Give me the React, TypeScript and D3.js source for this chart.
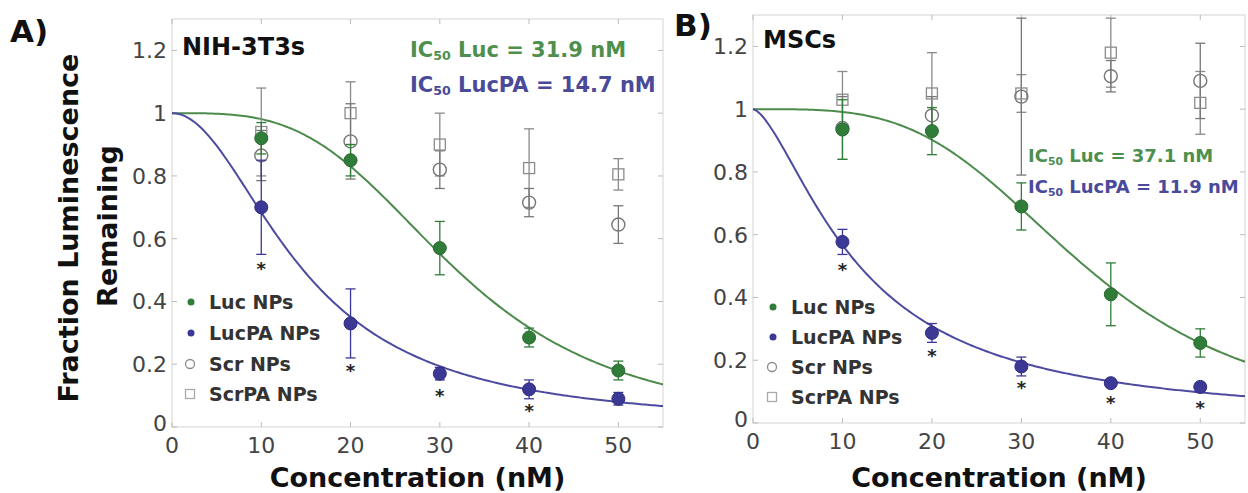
import React from 'react';
import * as d3 from 'd3';

// concentrations (nM)
const conc = [10, 20, 30, 40, 50];
const xTicks = [0, 10, 20, 30, 40, 50];
const yTicks = [0, 0.2, 0.4, 0.6, 0.8, 1, 1.2];
const legendLabels = ['Luc NPs', 'LucPA NPs', 'Scr NPs', 'ScrPA NPs'];

// A) NIH-3T3s
const nihLuc = [0.92, 0.85, 0.57, 0.285, 0.18];
const nihLucErr = [0.05, 0.05, 0.085, 0.03, 0.03];
const nihLucPA = [0.70, 0.33, 0.17, 0.12, 0.09];
const nihLucPAErr = [0.15, 0.11, 0.02, 0.03, 0.02];
const nihScr = [0.865, 0.91, 0.82, 0.715, 0.645];
const nihScrErr = [0.08, 0.12, 0.06, 0.045, 0.06];
const nihScrPA = [0.94, 1.0, 0.9, 0.825, 0.805];
const nihScrPAErr = [0.14, 0.1, 0.1, 0.125, 0.05];
const nihStars = [0.515, 0.19, 0.11, 0.065, null];
const nihIC50 = [31.9, 14.7];
const nihHill = [3.4, 2.0];

// B) MSCs
const mscLuc = [0.935, 0.93, 0.69, 0.41, 0.255];
const mscLucErr = [0.095, 0.075, 0.075, 0.1, 0.045];
const mscLucPA = [0.577, 0.287, 0.18, 0.127, 0.115];
const mscLucPAErr = [0.04, 0.03, 0.03, 0.012, 0.012];
const mscScr = [0.94, 0.98, 1.04, 1.105, 1.09];
const mscScrErr = [0.1, 0.06, 0.25, 0.05, 0.12];
const mscScrPA = [1.03, 1.05, 1.05, 1.18, 1.02];
const mscScrPAErr = [0.09, 0.13, 0.06, 0.11, 0.1];
const mscStars = [0.5, 0.225, 0.125, 0.075, 0.06];
const mscIC50 = [37.1, 11.9];
const mscHill = [3.6, 1.55];

const GREEN = '#2f7d38';
const GREEN_LINE = '#4d8b4d';
const GREEN_TXT = '#4e8f4e';
const BLUE = '#3c3896';
const BLUE_LINE = '#4c4ba0';
const BLUE_TXT = '#4a4a9a';
const GRAY = '#8c8c8c';
const FONT = 'DejaVu Sans, Verdana, sans-serif';

const panels = [
  {
    label: 'A)', labelX: 10, labelY: 42, cell: 'NIH-3T3s', cellY: 55,
    x0: 172, x1: 663, yTop: 19, yBot: 427,
    luc: nihLuc, lucErr: nihLucErr, lucPA: nihLucPA, lucPAErr: nihLucPAErr,
    scr: nihScr, scrErr: nihScrErr, scrPA: nihScrPA, scrPAErr: nihScrPAErr,
    stars: nihStars, ic50: nihIC50, hill: nihHill,
    icX: 410, icY: [57, 92], icSize: 21, legX: 190, legY: [302, 333, 364, 394], legSize: 19,
  },
  {
    label: 'B)', labelX: 674, labelY: 36, cell: 'MSCs', cellY: 48,
    x0: 753, x1: 1245, yTop: 15, yBot: 423,
    luc: mscLuc, lucErr: mscLucErr, lucPA: mscLucPA, lucPAErr: mscLucPAErr,
    scr: mscScr, scrErr: mscScrErr, scrPA: mscScrPA, scrPAErr: mscScrPAErr,
    stars: mscStars, ic50: mscIC50, hill: mscHill,
    icX: 1028, icY: [162, 193], icSize: 18, legX: 772, legY: [307, 337, 367, 397], legSize: 19,
  },
];

const hill = (c: number, ic50: number, n: number) => 1 / (1 + Math.pow(c / ic50, n));

function ErrBars({ x, y, vals, errs, color }: any) {
  return (
    <g stroke={color} strokeWidth={1.3}>
      {conc.map((c, i) => {
        const cx = x(c);
        const lo = y(vals[i] - errs[i]);
        const hi = y(Math.min(vals[i] + errs[i], 1.3));
        return (
          <g key={i}>
            <line x1={cx} x2={cx} y1={lo} y2={hi} />
            <line x1={cx - 5} x2={cx + 5} y1={lo} y2={lo} />
            {vals[i] + errs[i] <= 1.3 && <line x1={cx - 5} x2={cx + 5} y1={hi} y2={hi} />}
          </g>
        );
      })}
    </g>
  );
}

function Panel({ p }: any) {
  const x = d3.scaleLinear().domain([0, 55]).range([p.x0, p.x1]);
  const y = d3.scaleLinear().domain([0, 1.3]).range([p.yBot, p.yTop]);
  const curveX = d3.range(0, 55.01, 0.25);
  const fitPath = (k: number) =>
    d3.line<number>().x((c) => x(c)).y((c) => y(hill(c, p.ic50[k], p.hill[k])))(curveX) as string;

  return (
    <g fontFamily={FONT}>
      {/* frame */}
      <rect x={p.x0} y={p.yTop} width={p.x1 - p.x0} height={p.yBot - p.yTop} fill="none" stroke="#d4d4d4" strokeWidth={1} />
      {xTicks.map((t) => (
        <g key={'x' + t}>
          <line x1={x(t)} x2={x(t)} y1={p.yBot} y2={p.yBot - 5} stroke="#bbb" />
          <line x1={x(t)} x2={x(t)} y1={p.yTop} y2={p.yTop + 5} stroke="#bbb" />
          <text x={x(t)} y={p.yBot + 26} textAnchor="middle" fontSize={22} fill="#444">{t}</text>
        </g>
      ))}
      {yTicks.map((t) => (
        <g key={'y' + t}>
          <line x1={p.x0} x2={p.x0 + 5} y1={y(t)} y2={y(t)} stroke="#bbb" />
          <line x1={p.x1} x2={p.x1 - 5} y1={y(t)} y2={y(t)} stroke="#bbb" />
          <text x={p.x0 - 5} y={y(t) + (t === 0 ? 4 : 8)} textAnchor="end" fontSize={22} fill="#444">{t}</text>
        </g>
      ))}

      {/* fits */}
      <path d={fitPath(0)} fill="none" stroke={GREEN_LINE} strokeWidth={2} />
      <path d={fitPath(1)} fill="none" stroke={BLUE_LINE} strokeWidth={2} />

      {/* scrambled controls */}
      <ErrBars x={x} y={y} vals={p.scrPA} errs={p.scrPAErr} color="#8a8a8a" />
      <ErrBars x={x} y={y} vals={p.scr} errs={p.scrErr} color="#777" />
      {conc.map((c, i) => (
        <rect key={'sq' + i} x={x(c) - 5.5} y={y(p.scrPA[i]) - 5.5} width={11} height={11} fill="none" stroke={GRAY} strokeWidth={1.3} />
      ))}
      {conc.map((c, i) => (
        <circle key={'ci' + i} cx={x(c)} cy={y(p.scr[i])} r={6.5} fill="none" stroke="#777" strokeWidth={1.4} />
      ))}

      {/* Luc and LucPA */}
      <ErrBars x={x} y={y} vals={p.luc} errs={p.lucErr} color={GREEN} />
      <ErrBars x={x} y={y} vals={p.lucPA} errs={p.lucPAErr} color={BLUE} />
      {conc.map((c, i) => (
        <circle key={'g' + i} cx={x(c)} cy={y(p.luc[i])} r={6.5} fill={GREEN} stroke="#2a6a30" />
      ))}
      {conc.map((c, i) => (
        <circle key={'b' + i} cx={x(c)} cy={y(p.lucPA[i])} r={6.5} fill={BLUE} stroke="#302c80" />
      ))}
      {conc.map((c, i) =>
        p.stars[i] == null ? null : (
          <text key={'s' + i} x={x(c)} y={y(p.stars[i]) + 10} textAnchor="middle" fontSize={18} fontWeight="bold" fill="#222">*</text>
        )
      )}

      {/* texts */}
      <text x={p.labelX} y={p.labelY} fontSize={31} fontWeight="bold" fill="#111">{p.label}</text>
      <text x={p.x0 + 10} y={p.cellY} fontSize={24} fontWeight="bold" fill="#111">{p.cell}</text>
      {[0, 1].map((k) => (
        <text key={'ic' + k} x={p.icX} y={p.icY[k]} fontSize={p.icSize} fontWeight="bold" fill={k === 0 ? GREEN_TXT : BLUE_TXT}>
          IC<tspan fontSize={p.icSize * 0.6} dy={3}>50</tspan>
          <tspan dy={-3}>{k === 0 ? ` Luc = ${p.ic50[0]} nM` : ` LucPA = ${p.ic50[1]} nM`}</tspan>
        </text>
      ))}

      {/* legend */}
      <circle cx={p.legX + 1} cy={p.legY[0]} r={3.5} fill={GREEN} />
      <circle cx={p.legX + 1} cy={p.legY[1]} r={3.5} fill={BLUE} />
      <circle cx={p.legX} cy={p.legY[2]} r={4.5} fill="none" stroke={GRAY} strokeWidth={1.3} />
      <rect x={p.legX - 4.5} y={p.legY[3] - 4.5} width={9} height={9} fill="none" stroke="#aaa" strokeWidth={1.3} />
      {legendLabels.map((l, i) => (
        <text key={l} x={p.legX + 19} y={p.legY[i] + 7} fontSize={p.legSize} fontWeight="bold" fill="#333">{l}</text>
      ))}

      <text x={(p.x0 + p.x1) / 2} y={487} textAnchor="middle" fontSize={27} fontWeight="bold" fill="#111">Concentration (nM)</text>
    </g>
  );
}

export default function App() {
  return (
    <svg width={1248} height={493} style={{ position: 'absolute', left: 0, top: 0, background: '#fff' }}>
      <rect width={1248} height={493} fill="#fff" />
      {panels.map((p) => (
        <Panel key={p.label} p={p} />
      ))}
      <g fontFamily={FONT} fontWeight="bold" fontSize={27} fill="#111" textAnchor="middle">
        <text transform="translate(78,228) rotate(-90)">Fraction Luminescence</text>
        <text transform="translate(117,226) rotate(-90)">Remaining</text>
      </g>
    </svg>
  );
}
